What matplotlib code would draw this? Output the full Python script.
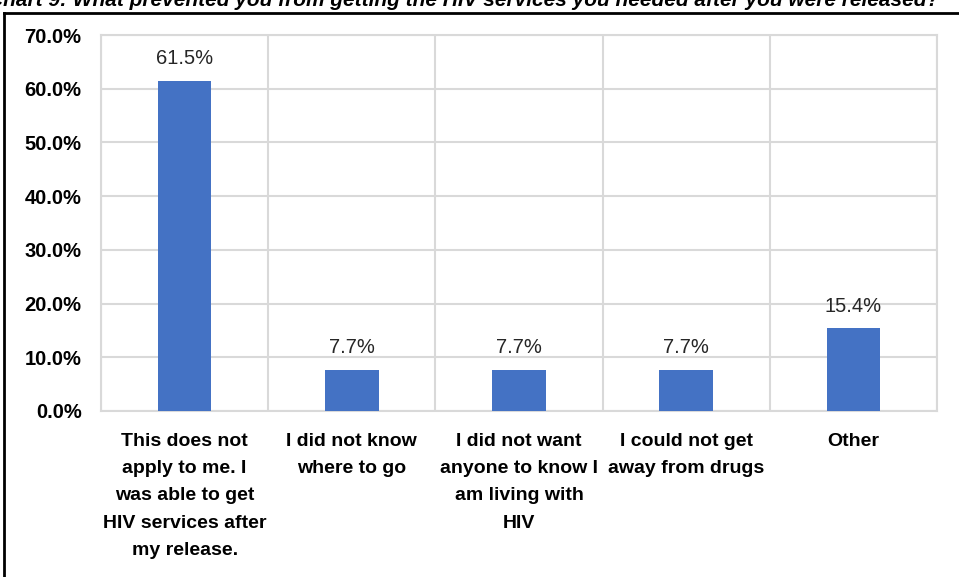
import numpy as np
import matplotlib
matplotlib.use("Agg")
import matplotlib.pyplot as plt
from matplotlib.lines import Line2D
from matplotlib.ticker import PercentFormatter, MultipleLocator

plt.rcParams['font.family'] = ['Liberation Sans Narrow', 'Liberation Sans', 'DejaVu Sans']

title = "Chart 9: What prevented you from getting the HIV services you needed after you were released?"
categories = [
    "This does not\napply to me. I\nwas able to get\nHIV services after\nmy release.",
    "I did not know\nwhere to go",
    "I did not want\nanyone to know I\nam living with\nHIV",
    "I could not get\naway from drugs",
    "Other",
]
values = [61.5, 7.7, 7.7, 7.7, 15.4]

bar_color = "#4472C4"
grid_color = "#d9d9d9"

fig = plt.figure(figsize=(9.59, 5.77), dpi=100)
ax = fig.add_axes([0.1053, 0.2877, 0.977 - 0.1053, 0.9393 - 0.2877])

x = np.arange(len(categories))
bars = ax.bar(x, values, width=0.32, color=bar_color, zorder=3)

for b, v in zip(bars, values):
    ax.annotate(f"{v:.1f}%", (b.get_x() + b.get_width() / 2, v),
                xytext=(0, 9), textcoords="offset points",
                ha="center", va="bottom", fontsize=14.5, color="#262626")

ax.set_xlim(-0.5, len(categories) - 0.5)
ax.set_ylim(0, 70)
ax.yaxis.set_major_locator(MultipleLocator(10))
ax.yaxis.set_major_formatter(PercentFormatter(decimals=1))
ax.set_xticks(x)
ax.set_xticklabels(categories, fontsize=14, fontweight="bold", linespacing=1.78, va="top")
ax.set_xticks(np.arange(-0.5, len(categories)), minor=True)
ax.tick_params(axis="both", which="both", length=0)
ax.tick_params(axis="y", pad=14, labelsize=14.5)
ax.tick_params(axis="x", pad=16)
for lbl in ax.get_yticklabels():
    lbl.set_fontweight("bold")

ax.grid(axis="y", which="major", color=grid_color, linewidth=1.5, zorder=0)
ax.grid(axis="x", which="minor", color=grid_color, linewidth=1.5, zorder=0)
for s in ax.spines.values():
    s.set_color(grid_color)
    s.set_linewidth(1.5)

# clipped title and outer frame of the original figure
fig.text(-0.012, 1.0, title, ha="left", va="center", fontsize=15,
         fontweight="bold", fontstyle="italic")
fig.add_artist(Line2D([0.004, 1.0], [1 - 13 / 577, 1 - 13 / 577], color="black", linewidth=2))
fig.add_artist(Line2D([0.004, 0.004], [0, 1 - 13 / 577], color="black", linewidth=2))

fig.savefig("out.png", dpi=100)
